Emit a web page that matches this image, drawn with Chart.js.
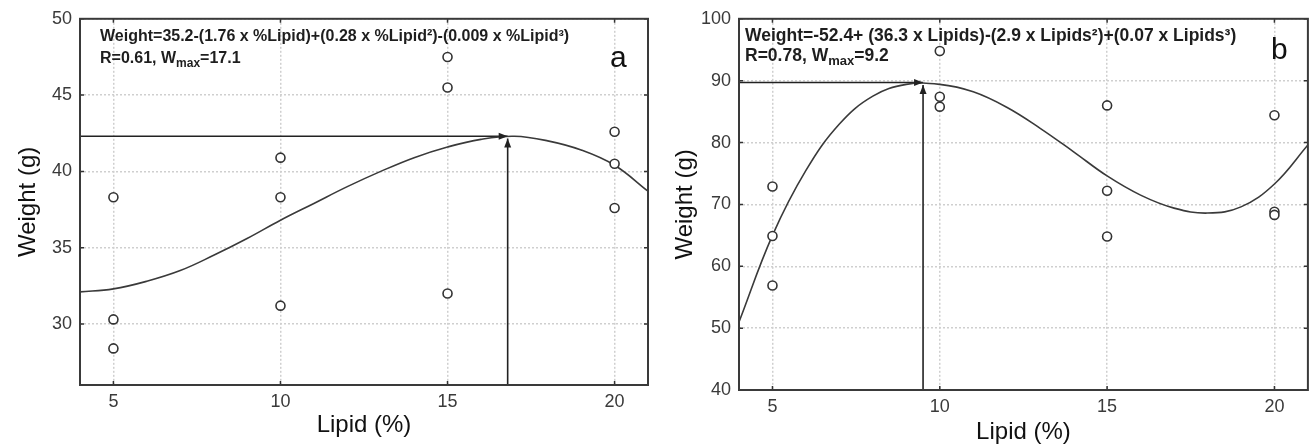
<!DOCTYPE html>
<html><head><meta charset="utf-8">
<script src="https://cdn.jsdelivr.net/npm/chart.js@4.4.1/dist/chart.umd.min.js"></script>
<style>
html,body{margin:0;padding:0;background:#fff;width:1314px;height:444px;overflow:hidden}
#wa{position:absolute;left:0;top:0;width:660px;height:444px}
#wb{position:absolute;left:660px;top:0;width:654px;height:444px}
</style></head><body>
<div id="wa"><canvas id="ca" width="660" height="444"></canvas></div>
<div id="wb"><canvas id="cb" width="654" height="444"></canvas></div>
<script>
// ---------- data ----------
const lipidLevels = [5, 5, 5, 10, 10, 10, 15, 15, 15, 20, 20, 20];
const weightA = [38.3, 30.3, 28.4, 40.9, 38.3, 31.2, 47.5, 45.5, 32.0, 42.6, 40.5, 37.6];
const weightB = [72.9, 64.9, 56.9, 94.8, 87.4, 85.8, 86.0, 72.2, 64.8, 84.4, 68.8, 68.3];
const fitLipid = [4, 5, 6, 7, 8, 9, 10, 11, 12, 13, 14, 15, 16, 17, 18, 19, 20, 21];
const fitA = [32.1, 32.3, 32.8, 33.5, 34.5, 35.6, 36.8, 37.9, 39.0, 40.0, 40.9, 41.6, 42.1, 42.3, 42.0, 41.4, 40.4, 38.7];
const fitB = [51.0, 65.0, 75.5, 83.0, 87.5, 89.4, 89.4, 88.2, 85.7, 82.3, 78.5, 74.6, 71.5, 69.4, 68.6, 69.6, 73.3, 79.6];
const xRange = [4, 21];
const yRangeA = [26, 50];
const yRangeB = [40, 100];
const xTicks = [5, 10, 15, 20];
const yTicksA = [30, 35, 40, 45, 50];
const yTicksB = [40, 50, 60, 70, 80, 90, 100];
const peakA = [16.8, 42.3];
const peakB = [9.5, 89.7];
const equationA = 'Weight=35.2-(1.76 x %Lipid)+(0.28 x %Lipid\u00B2)-(0.009 x %Lipid\u00B3)';
const statsA = ['R=0.61, W', 'max', '=17.1'];
const equationB = 'Weight=-52.4+ (36.3 x Lipids)-(2.9 x Lipids\u00B2)+(0.07 x Lipids\u00B3)';
const statsB = ['R=0.78, W', 'max', '=9.2'];
const panelA = 'a', panelB = 'b';
const xTitle = 'Lipid (%)', yTitle = 'Weight (g)';

// ---------- helpers ----------
const FONT = "'Liberation Sans', Arial, sans-serif";

const decor = {
  id: 'decor',
  afterDatasetsDraw(chart, args, o) {
    const ctx = chart.ctx, a = chart.chartArea;
    const xs = chart.scales.x, ys = chart.scales.y;
    ctx.save();
    // tick marks on frame
    ctx.strokeStyle = '#333'; ctx.lineWidth = 1.5;
    xs.ticks.forEach(t => {
      const px = xs.getPixelForValue(t.value);
      ctx.beginPath(); ctx.moveTo(px, a.bottom); ctx.lineTo(px, a.bottom - 4);
      ctx.moveTo(px, a.top); ctx.lineTo(px, a.top + 4); ctx.stroke();
    });
    ys.ticks.forEach(t => {
      const py = ys.getPixelForValue(t.value);
      ctx.beginPath(); ctx.moveTo(a.left, py); ctx.lineTo(a.left + 4, py);
      ctx.moveTo(a.right, py); ctx.lineTo(a.right - 4, py); ctx.stroke();
    });
    // frame
    ctx.strokeStyle = '#3a3a3a'; ctx.lineWidth = 2;
    ctx.strokeRect(a.left, a.top, a.right - a.left, a.bottom - a.top);
    // arrowheads
    chart.data.datasets.forEach((ds, i) => {
      if (!ds.arrow) return;
      const pts = chart.getDatasetMeta(i).data;
      const tip = pts[pts.length - 1], prev = pts[pts.length - 2];
      const ang = Math.atan2(tip.y - prev.y, tip.x - prev.x);
      const L = 9, W = 3.5;
      ctx.fillStyle = '#222';
      ctx.beginPath();
      ctx.moveTo(tip.x, tip.y);
      ctx.lineTo(tip.x - L * Math.cos(ang) + W * Math.sin(ang), tip.y - L * Math.sin(ang) - W * Math.cos(ang));
      ctx.lineTo(tip.x - L * Math.cos(ang) - W * Math.sin(ang), tip.y - L * Math.sin(ang) + W * Math.cos(ang));
      ctx.closePath(); ctx.fill();
    });
    // text
    ctx.fillStyle = '#1e1e1e';
    ctx.textBaseline = 'alphabetic'; ctx.textAlign = 'left';
    ctx.font = 'bold ' + o.eqSize + 'px ' + FONT;
    ctx.fillText(o.equation, a.left + o.eqDx, a.top + o.eqDy1);
    let x = a.left + o.eqDx;
    const y2 = a.top + o.eqDy2;
    ctx.fillText(o.stats[0], x, y2); x += ctx.measureText(o.stats[0]).width;
    ctx.font = 'bold ' + Math.round(o.eqSize * 0.72) + 'px ' + FONT;
    ctx.fillText(o.stats[1], x, y2 + 4); x += ctx.measureText(o.stats[1]).width;
    ctx.font = 'bold ' + o.eqSize + 'px ' + FONT;
    ctx.fillText(o.stats[2], x, y2);
    ctx.font = '30px ' + FONT; ctx.fillStyle = '#111';
    ctx.fillText(o.panel, a.right - o.panelDx, a.top + o.panelDy);
    ctx.restore();
  }
};

function makeChart(id, weights, fit, peak, yRange, yTicks, g) {
  return new Chart(document.getElementById(id), {
    type: 'scatter',
    data: {
      datasets: [
        { data: lipidLevels.map((v, i) => ({x: v, y: weights[i]})),
          pointStyle: 'circle', pointRadius: 4.5, pointBorderWidth: 1.6,
          pointBorderColor: '#333', pointBackgroundColor: '#fff', showLine: false, order: 0 },
        { data: fitLipid.map((v, i) => ({x: v, y: fit[i]})),
          showLine: true, pointRadius: 0, borderColor: '#3a3a3a', borderWidth: 1.6,
          tension: 0.4, order: 1 },
        { data: [{x: xRange[0], y: peak[1]}, {x: peak[0], y: peak[1]}], arrow: true,
          showLine: true, pointRadius: 0, borderColor: '#222', borderWidth: 1.6, order: 2 },
        { data: [{x: peak[0], y: yRange[0]}, {x: peak[0], y: peak[1] - g.vGap}], arrow: true,
          showLine: true, pointRadius: 0, borderColor: '#222', borderWidth: 1.6, order: 2 }
      ]
    },
    options: {
      responsive: false, animation: false, devicePixelRatio: 1,
      layout: { padding: { left: 0, top: 15, right: g.padRight, bottom: 0 } },
      plugins: { legend: { display: false }, tooltip: { enabled: false },
        decor: g.decor },
      scales: {
        x: {
          type: 'linear', min: xRange[0], max: xRange[1],
          afterBuildTicks: s => { s.ticks = xTicks.map(v => ({value: v})); },
          afterFit: s => { s.height = g.xHeight; },
          grid: { color: '#cfcfcf', lineWidth: 1.5, drawTicks: false },
          border: { display: false, dash: [2, 2] },
          ticks: { font: { family: FONT, size: 18 }, color: '#3a3a3a', padding: 6 },
          title: { display: true, text: xTitle, color: '#111',
            font: { family: FONT, size: 24, lineHeight: 1 }, padding: { top: 0, bottom: g.xTitlePad } }
        },
        y: {
          type: 'linear', min: yRange[0], max: yRange[1],
          afterBuildTicks: s => { s.ticks = yTicks.map(v => ({value: v})); },
          afterFit: s => { s.width = g.yWidth; },
          grid: { color: '#cfcfcf', lineWidth: 1.5, drawTicks: false },
          border: { display: false, dash: [2, 2] },
          ticks: { font: { family: FONT, size: 18 }, color: '#3a3a3a', padding: 8 },
          title: { display: true, text: yTitle, color: '#111',
            font: { family: FONT, size: 24, lineHeight: 1 }, padding: { top: g.yTitlePad, bottom: 0 } }
        }
      }
    },
    plugins: [decor]
  });
}

makeChart('ca', weightA, fitA, peakA, yRangeA, yTicksA, {
  padRight: 12, xHeight: 59, yWidth: 80, xTitlePad: 7, yTitlePad: 16, vGap: 0.15,
  decor: { equation: equationA, stats: statsA, panel: panelA, eqSize: 16,
    eqDx: 20, eqDy1: 22, eqDy2: 44, panelDx: 38, panelDy: 48 }
});
makeChart('cb', weightB, fitB, peakB, yRangeB, yTicksB, {
  padRight: 4, xHeight: 54, yWidth: 79, xTitlePad: 0, yTitlePad: 13, vGap: 0.4,
  decor: { equation: equationB, stats: statsB, panel: panelB, eqSize: 17.5,
    eqDx: 6, eqDy1: 22, eqDy2: 42, panelDx: 37, panelDy: 40 }
});
</script>
</body></html>
